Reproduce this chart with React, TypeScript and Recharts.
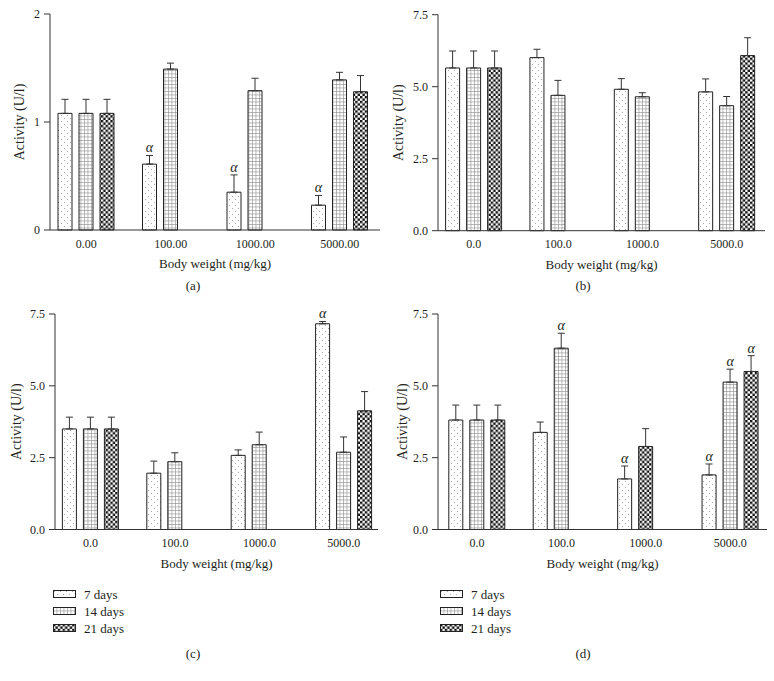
import React from 'react';
import { BarChart, Bar, XAxis, YAxis, ErrorBar, Cell, LabelList, Label, Legend } from 'recharts';

// dose groups
const dosesA = ['0.00', '100.00', '1000.00', '5000.00'];
const dosesB = ['0.0', '100.0', '1000.0', '5000.0'];

// panel (a)
const a7 = [1.08, 0.61, 0.35, 0.23];
const a7err = [0.13, 0.08, 0.16, 0.09];
const a14 = [1.08, 1.49, 1.29, 1.39];
const a14err = [0.13, 0.055, 0.115, 0.07];
const a21 = [1.08, 0, 0, 1.28];
const a21err = [0.13, 0, 0, 0.15];
const aSig7 = [false, true, true, true];

// panel (b)
const b7 = [5.65, 6.01, 4.91, 4.82];
const b7err = [0.59, 0.29, 0.37, 0.45];
const b14 = [5.65, 4.70, 4.65, 4.34];
const b14err = [0.59, 0.52, 0.14, 0.32];
const b21 = [5.65, 0, 0, 6.08];
const b21err = [0.59, 0, 0, 0.62];

// panel (c)
const c7 = [3.50, 1.96, 2.58, 7.16];
const c7err = [0.41, 0.42, 0.19, 0.08];
const c14 = [3.50, 2.36, 2.95, 2.69];
const c14err = [0.41, 0.31, 0.44, 0.53];
const c21 = [3.50, 0, 0, 4.13];
const c21err = [0.41, 0, 0, 0.67];
const cSig7 = [false, false, false, true];

// panel (d)
const d7 = [3.81, 3.38, 1.76, 1.90];
const d7err = [0.52, 0.36, 0.45, 0.38];
const d14 = [3.81, 6.31, 2.89, 5.13];
const d14err = [0.52, 0.52, 0.62, 0.45];
const d21 = [3.81, 0, 0, 5.50];
const d21err = [0.52, 0, 0, 0.55];
const dSig7 = [false, false, true, true];
const dSig14 = [false, true, false, true];
const dSig21 = [false, false, false, true];

const seriesNames = ['7 days', '14 days', '21 days'];
const ticksSmall = [0, 1, 2];
const ticksLarge = [0, 2.5, 5, 7.5];

const FONT = '"Liberation Serif", "Times New Roman", serif';
const INK = '#231f20';
const noSig = [false, false, false, false];

type Plot = { left: number; top: number; right: number; bottom: number };

interface PanelProps {
  id: string;
  x: number;
  y: number;
  width: number;
  height: number;
  plot: Plot;
  pad: { left: number; right: number };
  doses: string[];
  s7: number[]; e7: number[];
  s14: number[]; e14: number[];
  s21: number[]; e21: number[];
  sig7?: boolean[]; sig14?: boolean[]; sig21?: boolean[];
  max: number;
  ticks: number[];
  digits: number;
  yLabelOffset: number;
  legend?: { left: number; top: number };
  checker14At?: number;
}

const Patterns = ({ id }: { id: string }) => (
  <defs>
    <pattern id={`${id}-dots`} patternUnits="userSpaceOnUse" width={6} height={6}>
      <rect width={6} height={6} fill="#fff" />
      <circle cx={1.5} cy={1.5} r={0.55} fill="#9a9a9a" />
      <circle cx={4.5} cy={4.5} r={0.55} fill="#9a9a9a" />
    </pattern>
    <pattern id={`${id}-grid`} patternUnits="userSpaceOnUse" width={3.5} height={3.5}>
      <rect width={3.5} height={3.5} fill="#fff" />
      <path d="M0 0.3 H3.5 M0.3 0 V3.5" stroke="#8a8a8a" strokeWidth={0.7} />
    </pattern>
    <pattern id={`${id}-check`} patternUnits="userSpaceOnUse" width={4.8} height={4.8}>
      <rect width={4.8} height={4.8} fill="#fff" />
      <rect width={2.4} height={2.4} fill="#111" />
      <rect x={2.4} y={2.4} width={2.4} height={2.4} fill="#111" />
    </pattern>
  </defs>
);

// value passed in is the top of the error bar (only for significant bars);
// y is taken from the linear value axis: 0 sits on plot.bottom, max on plot.top
const alphaLabel = (base: number, pxPerUnit: number) => (p: any) => {
  const { x, width, value } = p;
  if (value === null || value === undefined || value === '') return null;
  const top = base - Number(value) * pxPerUnit;
  return (
    <text x={Number(x) + Number(width) / 2} y={top - 3} textAnchor="middle"
      fontFamily={FONT} fontStyle="italic" fontSize={14} fill={INK}>
      α
    </text>
  );
};

const Panel = (props: PanelProps) => {
  const { id, plot, pad, doses, max, ticks, digits } = props;
  const sig7 = props.sig7 ?? noSig;
  const sig14 = props.sig14 ?? noSig;
  const sig21 = props.sig21 ?? noSig;
  const data = doses.map((dose, i) => ({
    dose,
    d7: props.s7[i], e7: [0, props.e7[i]], t7: sig7[i] ? props.s7[i] + props.e7[i] : null,
    d14: props.s14[i], e14: [0, props.e14[i]], t14: sig14[i] ? props.s14[i] + props.e14[i] : null,
    d21: props.s21[i], e21: [0, props.e21[i]], t21: sig21[i] ? props.s21[i] + props.e21[i] : null,
  }));
  const xAxisHeight = 45;
  const pxPerUnit = (plot.bottom - plot.top) / max;
  const fills = [`url(#${id}-dots)`, `url(#${id}-grid)`, `url(#${id}-check)`];
  const alpha = alphaLabel(plot.bottom, pxPerUnit);

  const renderLegend = () => (
    <div style={{ fontFamily: FONT, fontSize: 13, color: INK }}>
      {seriesNames.map((name, i) => (
        <div key={name} style={{ display: 'flex', alignItems: 'center', height: 17 }}>
          <svg width={23} height={9} style={{ marginRight: 8 }}>
            <rect x={0.5} y={0.5} width={22} height={7} fill={fills[i]} stroke="#222" strokeWidth={1} />
          </svg>
          <span>{name}</span>
        </div>
      ))}
    </div>
  );

  return (
    <div style={{ position: 'absolute', left: props.x, top: props.y, fontFamily: FONT }}>
      <BarChart
        width={props.width}
        height={props.height}
        data={data}
        barSize={14}
        barGap={7}
        margin={{
          top: plot.top,
          left: plot.left - 40,
          right: props.width - plot.right,
          bottom: props.height - plot.bottom - xAxisHeight,
        }}
      >
        <Patterns id={id} />
        <XAxis
          dataKey="dose"
          height={xAxisHeight}
          tickLine={false}
          tickMargin={3}
          padding={{ left: pad.left, right: pad.right }}
          axisLine={{ stroke: '#333', strokeWidth: 1 }}
          tick={{ fill: INK, fontSize: 12, fontFamily: FONT }}
        >
          <Label value="Body weight (mg/kg)" position="insideTop" offset={29}
            style={{ fill: INK, fontSize: 13, fontFamily: FONT }} />
        </XAxis>
        <YAxis
          width={40}
          domain={[0, max]}
          ticks={ticks}
          interval={0}
          tickSize={6}
          tickMargin={4}
          tickFormatter={(v: number) => v.toFixed(digits)}
          axisLine={{ stroke: '#333', strokeWidth: 1 }}
          tickLine={{ stroke: '#333', strokeWidth: 1 }}
          tick={{ fill: INK, fontSize: 12, fontFamily: FONT }}
        >
          <Label value="Activity (U/l)" angle={-90} position="insideLeft" offset={props.yLabelOffset}
            style={{ textAnchor: 'middle', fill: INK, fontSize: 14, fontFamily: FONT }} />
        </YAxis>
        {props.legend && (
          <Legend layout="vertical" align="center" verticalAlign="middle"
            wrapperStyle={{ left: props.legend.left, top: props.legend.top, width: 120 }}
            content={renderLegend} />
        )}
        <Bar dataKey="d7" name={seriesNames[0]} fill={fills[0]} stroke="#222" strokeWidth={1} isAnimationActive={false}>
          <ErrorBar dataKey="e7" width={3.5} stroke="#333" strokeWidth={1} direction="y" />
          <LabelList dataKey="t7" content={alpha} />
        </Bar>
        <Bar dataKey="d14" name={seriesNames[1]} fill={fills[1]} stroke="#222" strokeWidth={1} isAnimationActive={false}>
          {data.map((_, i) => (
            <Cell key={i} fill={props.checker14At === i ? fills[2] : fills[1]} />
          ))}
          <ErrorBar dataKey="e14" width={3.5} stroke="#333" strokeWidth={1} direction="y" />
          <LabelList dataKey="t14" content={alpha} />
        </Bar>
        <Bar dataKey="d21" name={seriesNames[2]} fill={fills[2]} stroke="#222" strokeWidth={1} isAnimationActive={false}>
          <ErrorBar dataKey="e21" width={3.5} stroke="#333" strokeWidth={1} direction="y" />
          <LabelList dataKey="t21" content={alpha} />
        </Bar>
      </BarChart>
    </div>
  );
};

const Caption = ({ text, cx, baseline }: { text: string; cx: number; baseline: number }) => (
  <div style={{
    position: 'absolute', left: cx - 30, width: 60, top: baseline - 11, textAlign: 'center',
    fontFamily: FONT, fontSize: 13, lineHeight: '14px', color: INK,
  }}>
    {text}
  </div>
);

export default function App() {
  return (
    <div style={{ position: 'absolute', left: 0, top: 0, width: 774, height: 681, background: '#fff' }}>
      <Panel id="pa" x={0} y={0} width={390} height={300}
        plot={{ left: 50, top: 14, right: 380, bottom: 230 }} pad={{ left: -6, right: -2 }}
        doses={dosesA} s7={a7} e7={a7err} s14={a14} e14={a14err} s21={a21} e21={a21err}
        sig7={aSig7} max={2} ticks={ticksSmall} digits={0} yLabelOffset={9} />
      <Panel id="pb" x={390} y={0} width={384} height={300}
        plot={{ left: 48, top: 14.7, right: 375, bottom: 230.7 }} pad={{ left: -6.4, right: -4 }}
        doses={dosesB} s7={b7} e7={b7err} s14={b14} e14={b14err} s21={b21} e21={b21err}
        max={7.5} ticks={ticksLarge} digits={1} yLabelOffset={0} />
      <Panel id="pc" x={0} y={300} width={390} height={345}
        plot={{ left: 55, top: 14, right: 378, bottom: 229.5 }} pad={{ left: -6.6, right: -8 }}
        doses={dosesB} s7={c7} e7={c7err} s14={c14} e14={c14err} s21={c21} e21={c21err}
        sig7={cSig7} max={7.5} ticks={ticksLarge} digits={1} yLabelOffset={1}
        legend={{ left: 53, top: 286 }} />
      <Panel id="pd" x={390} y={300} width={384} height={345}
        plot={{ left: 48, top: 14, right: 377, bottom: 229.5 }} pad={{ left: -3.2, right: -5.5 }}
        doses={dosesB} s7={d7} e7={d7err} s14={d14} e14={d14err} s21={d21} e21={d21err}
        sig7={dSig7} sig14={dSig14} sig21={dSig21} max={7.5} ticks={ticksLarge} digits={1} yLabelOffset={4}
        legend={{ left: 50, top: 286 }} checker14At={2} />
      <Caption text="(a)" cx={193} baseline={290} />
      <Caption text="(b)" cx={583} baseline={290} />
      <Caption text="(c)" cx={193} baseline={658} />
      <Caption text="(d)" cx={583} baseline={658} />
    </div>
  );
}
